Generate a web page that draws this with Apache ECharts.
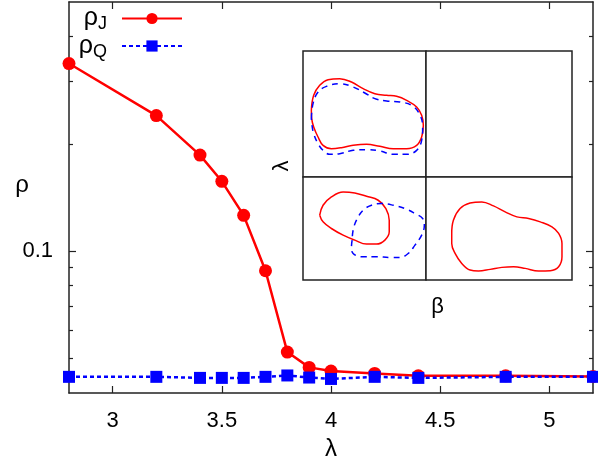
<!DOCTYPE html>
<html>
<head>
<meta charset="utf-8">
<script src="https://cdn.jsdelivr.net/npm/echarts@6/dist/echarts.min.js"></script>
<style>
html,body{margin:0;padding:0;background:#fff;}
#chart{width:598px;height:462px;}
</style>
</head>
<body>
<div id="chart"></div>
<script>
// ---- main data ----
const lambda = [2.8, 3.2, 3.4, 3.5, 3.6, 3.7, 3.8, 3.9, 4.0, 4.2, 4.4, 4.8, 5.2];
const rhoJ = [0.336, 0.240, 0.186, 0.157, 0.126, 0.0881, 0.0521, 0.0472, 0.0461, 0.0454, 0.0447, 0.0447, 0.0445];
const rhoQ = [0.0444, 0.0444, 0.0441, 0.0441, 0.0441, 0.0444, 0.0448, 0.0442, 0.0438, 0.0444, 0.0441, 0.0444, 0.0444];
const xTicks = [3, 3.5, 4, 4.5, 5];
const yMajor = [0.1];
const yMinor = [0.05, 0.06, 0.07, 0.08, 0.09, 0.2, 0.3, 0.4];
const yMin = 0.04, yMax = 0.5;

// ---- inset shapes (inset coordinates) ----
const tlRed = [[65,210],[72,165],[90,135],[115,118],[150,115],[185,125],[220,145],[255,160],[290,165],[320,168],[350,180],[380,200],[395,225],[400,255],[395,290],[380,315],[350,325],[310,325],[270,318],[230,312],[190,315],[155,322],[125,325],[100,315],[85,290],[72,260],[66,235],[65,210]];
const tlBlue = [[65,235],[70,190],[85,155],[110,138],[150,130],[190,140],[225,158],[255,175],[290,182],[330,185],[365,195],[388,220],[398,260],[395,300],[380,330],[350,342],[310,342],[270,332],[230,328],[190,330],[150,340],[120,342],[100,330],[85,310],[72,280],[67,255],[65,235]];
const blRed = [[90,525],[100,495],[125,470],[160,455],[195,458],[230,468],[265,480],[288,505],[298,540],[298,575],[285,600],[260,612],[230,612],[195,600],[160,585],[125,565],[100,545],[90,525]];
const blBlue = [[187,600],[185,620],[190,640],[215,650],[260,650],[300,652],[330,652],[355,640],[375,615],[395,585],[403,555],[398,535],[375,520],[345,505],[310,495],[275,490],[245,495],[220,510],[200,540],[190,570],[187,600]];
const brRed = [[485,580],[490,540],[510,505],[540,488],[575,485],[610,497],[645,515],[680,530],[715,535],[750,545],[785,560],[805,580],[815,610],[815,650],[805,680],[780,692],[745,693],[705,685],[670,680],[635,682],[600,688],[565,693],[540,690],[515,670],[495,640],[485,610],[485,580]];

const FONT = 'Liberation Sans';
const frame = {show: true, lineStyle: {color: '#222', width: 1.5}};
function hidden() { return {axisLine:{show:false}, axisTick:{show:false}, axisLabel:{show:false}, splitLine:{show:false}}; }

const chart = echarts.init(document.getElementById('chart'), null, {renderer: 'canvas'});

function panelGrid(left, top, width, height) {
  return {left, top, width, height, show: true, borderColor: '#222', borderWidth: 1.5, backgroundColor: '#fff', z: 5, outerBoundsMode:'none'};
}
const xAxisRange = [[40,408],[408,845],[40,408],[408,845]];
const yAxisRange = [[32,410],[32,410],[410,720],[410,720]];

const grids = [
  {left: 69, top: 2, right: 5, bottom: 69, outerBoundsMode:'none'},
  panelGrid(303, 51, 123, 126),
  panelGrid(426, 51, 146, 126),
  panelGrid(303, 177, 123, 103),
  panelGrid(426, 177, 146, 103),
  {left: 303, top: 52, width: 269, height: 228, show: false, outerBoundsMode:'none'}
];

const tickStyle = {color:'#222', width:1.2};
const xAxes = [
  {type:'value', gridIndex:0, min:2.8, max:5.2, position:'bottom',
   axisLine: frame, splitLine:{show:false},
   axisTick:{show:true, inside:true, length:7, customValues: xTicks, lineStyle:tickStyle},
   axisLabel:{show:true, customValues: xTicks, margin:17, fontSize:22, color:'#000', fontFamily:FONT},
   name:'λ', nameLocation:'middle', nameGap:44, nameMoveOverlap:false,
   nameTextStyle:{fontSize:24, color:'#000', fontFamily:FONT}},
  {type:'value', gridIndex:0, min:2.8, max:5.2, position:'top',
   axisLine: frame, splitLine:{show:false},
   axisTick:{show:true, inside:true, length:7, customValues: xTicks, lineStyle:tickStyle},
   axisLabel:{show:false}}
];
// yAxis 0: the log data axis (with frame line, label 0.1, and name)
const yAxes = [
  {type:'log', logBase:10, gridIndex:0, min:yMin, max:yMax, position:'left',
   axisLine: frame, splitLine:{show:false}, axisTick:{show:false},
   axisLabel:{show:true, customValues: yMajor, margin:16, fontSize:22, color:'#000', fontFamily:FONT},
   name:'ρ', nameLocation:'middle', nameRotate:0, nameGap:40, nameMoveOverlap:false,
   nameTextStyle:{fontSize:24, color:'#000', fontFamily:FONT, verticalAlign:'bottom'}},
  {type:'log', logBase:10, gridIndex:0, min:yMin, max:yMax, position:'right',
   axisLine: frame, splitLine:{show:false}, axisTick:{show:false}, axisLabel:{show:false}}
];
// tick-only axes, in log10 space of the same log scale
const lg = v => Math.log10(v);
[['left', yMajor, 7], ['left', yMinor, 4], ['right', yMajor, 7], ['right', yMinor, 4]].forEach(([pos, vals, len]) => {
  yAxes.push({type:'value', gridIndex:0, min:lg(yMin), max:lg(yMax), position:pos,
    axisLine:{show:false}, splitLine:{show:false}, axisLabel:{show:false},
    axisTick:{show:true, inside:true, length:len, customValues: vals.map(lg), lineStyle:tickStyle}});
});
// yAxes indices so far: 0..5 ; panels -> 6..9 ; inset title -> 10
for (let i = 0; i < 4; i++) {
  xAxes.push(Object.assign({type:'value', gridIndex:i+1, min:xAxisRange[i][0], max:xAxisRange[i][1]}, hidden()));
  yAxes.push(Object.assign({type:'value', gridIndex:i+1, min:yAxisRange[i][0], max:yAxisRange[i][1], inverse:true}, hidden()));
}
xAxes.push(Object.assign({type:'value', gridIndex:5, min:0, max:1, name:'β', nameLocation:'middle', nameGap:16, nameMoveOverlap:false,
  nameTextStyle:{fontSize:22, color:'#000', fontFamily:FONT}}, hidden()));
yAxes.push(Object.assign({type:'value', gridIndex:5, min:0, max:1, name:'λ', nameLocation:'middle', nameGap:10, nameMoveOverlap:false,
  nameTextStyle:{fontSize:22, color:'#000', fontFamily:FONT}}, hidden()));

// panel p: 0=TL,1=TR,2=BL,3=BR -> xAxis 2+p, yAxis 6+p
function shape(data, p, color, dashed) {
  return {type:'line', xAxisIndex:2+p, yAxisIndex:6+p, data, smooth:0.4, showSymbol:false, symbol:'none',
    lineStyle:{color, width:1.5, type: dashed ? [6,5] : 'solid'}, z:6, silent:true};
}

const series = [
  {name:'rhoJ', type:'line', xAxisIndex:0, yAxisIndex:0, data: lambda.map((x,i)=>[x, rhoJ[i]]),
   symbol:'circle', symbolSize:13, itemStyle:{color:'#ff0000'}, lineStyle:{color:'#ff0000', width:2.5}, z:2},
  {name:'rhoQ', type:'line', xAxisIndex:0, yAxisIndex:0, data: lambda.map((x,i)=>[x, rhoQ[i]]),
   symbol:'rect', symbolSize:12, itemStyle:{color:'#0000ff'}, lineStyle:{color:'#0000ff', width:2.5, type:[4,3]}, z:3},
  shape(tlRed, 0, '#ff0000', false),
  shape(tlBlue, 0, '#0000ff', true),
  shape(blRed, 2, '#ff0000', false),
  shape(blBlue, 2, '#0000ff', true),
  shape(brRed, 3, '#ff0000', false)
];

chart.setOption({
  animation:false,
  backgroundColor:'#fff',
  grid: grids,
  xAxis: xAxes,
  yAxis: yAxes,
  legend: {
    data:['rhoJ','rhoQ'], orient:'vertical', align:'right', right:415, top:6, padding:0,
    itemWidth:60, itemHeight:14, itemGap:0,
    formatter: n => n === 'rhoJ' ? '{m|ρ}{s|J}' : '{m|ρ}{s|Q}',
    textStyle:{color:'#000', fontFamily:FONT, padding:[0,10,0,0], rich:{
      m:{fontSize:25, fontFamily:FONT, color:'#000'},
      s:{fontSize:18, fontFamily:FONT, color:'#000', padding:[12,0,0,0]}
    }}
  },
  series
});
</script>
</body>
</html>
